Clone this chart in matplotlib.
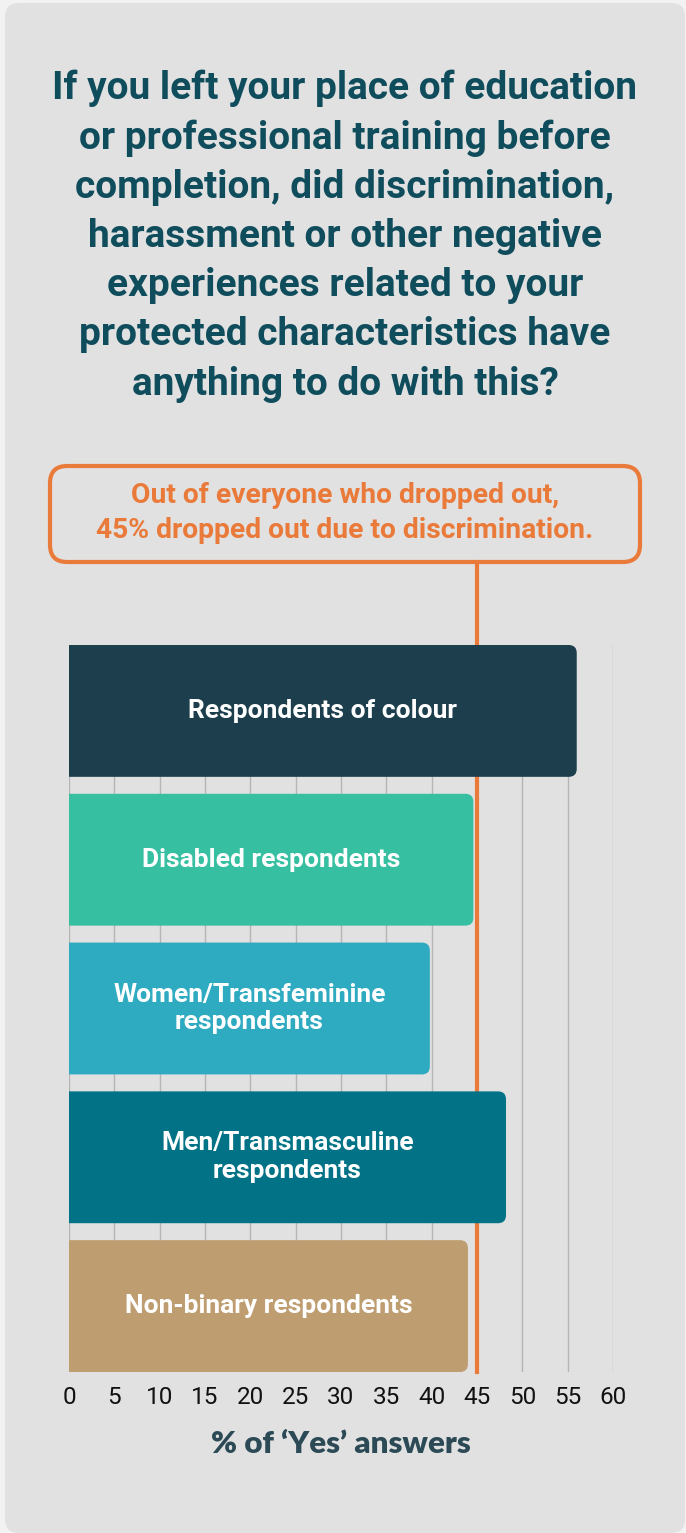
import matplotlib
matplotlib.use("Agg")
import matplotlib.pyplot as plt
from matplotlib.patches import FancyBboxPatch
from matplotlib import transforms

# 字体（窄体优先）
plt.rcParams['font.family'] = ['Liberation Sans Narrow', 'Roboto', 'DejaVu Sans']

# 数据
groups = ['Respondents of colour', 'Disabled respondents', 'Women/Transfeminine\nrespondents',
          'Men/Transmasculine\nrespondents', 'Non-binary respondents']
values = [56, 44.6, 39.8, 48.2, 44.0]
colors = ['#1d3e4c', '#36bfa0', '#2eaac1', '#027386', '#be9d70']
overall = 45
ticks = list(range(0, 65, 5))

title = ("If you left your place of education\nor professional training before\n"
         "completion, did discrimination,\nharassment or other negative\n"
         "experiences related to your\nprotected characteristics have\n"
         "anything to do with this?")
note = "Out of everyone who dropped out,\n45% dropped out due to discrimination."

W, H = 686, 1533
fig = plt.figure(figsize=(W / 100, H / 100), dpi=100)
fig.patch.set_facecolor('#f2f2f2')

# 背景圆角面板
panel = FancyBboxPatch((5 / W, 0), 680 / W, 1 - 3 / H,
                       boxstyle="round,pad=0,rounding_size=0.02", mutation_aspect=W / H,
                       transform=fig.transFigure, facecolor='#e1e1e1', edgecolor='none', zorder=-5)
fig.patches.append(panel)

# 标题
fig.text(345 / W, 1 - 236 / H, title, ha='center', va='center', fontsize=28,
         fontweight='bold', color='#0f4c5c', linespacing=1.42)

# 注释框
box = FancyBboxPatch((50 / W, 1 - 562 / H), 590 / W, 96 / H,
                     boxstyle="round,pad=0,rounding_size=0.025", mutation_aspect=W / H,
                     transform=fig.transFigure, facecolor='none', edgecolor='#ea7a3a',
                     linewidth=3, zorder=2)
fig.patches.append(box)
fig.text(345 / W, 1 - 513 / H, note, ha='center', va='center', fontsize=20.3,
         fontweight='bold', color='#ea7a3a', linespacing=1.4)

# 坐标轴
ax = fig.add_axes([69 / W, 161 / H, 544 / W, 727 / H])
ax.set_facecolor('none')
ypos = list(range(len(values)))
bars = ax.barh(ypos, values, height=0.886, color=colors)
ax.set_xlim(0, 60)
ax.set_ylim(4.443, -0.443)

# 圆角条形
px_x = 60 / 544
px_y = 4.886 / 727
r = 8 * px_x
for b, c in zip(bars, colors):
    x0, y0, w, h = b.get_x(), b.get_y(), b.get_width(), b.get_height()
    b.set_visible(False)
    fb = FancyBboxPatch((x0 - 2, y0), w + 2, h,
                        boxstyle=f"round,pad=0,rounding_size={r}",
                        mutation_aspect=px_y / px_x, facecolor=c, edgecolor='none', zorder=3)
    ax.add_patch(fb)

for y, v, g in zip(ypos, values, groups):
    ax.text(v / 2, y, g, ha='center', va='center', color='white', fontsize=19,
            fontweight='bold', zorder=4, linespacing=1.2)

ax.set_xticks(ticks)
ax.set_xticklabels([str(t) for t in ticks], fontsize=17.5, color='#111111')
ax.tick_params(axis='x', length=0, pad=10)
ax.set_yticks([])
ax.grid(axis='x', color='#b5b5b5', linewidth=1, zorder=1)
ax.set_axisbelow(True)
for s in ax.spines.values():
    s.set_visible(False)

# 45% 参考线（在条形下方）
tr = transforms.blended_transform_factory(ax.transData, fig.transFigure)
ax.plot([overall, overall], [161 / H, 1 - 562 / H], transform=tr, color='#ea7a3a',
        linewidth=3, clip_on=False, zorder=2)

ax.set_xlabel("% of \u2018Yes\u2019 answers", fontsize=22.5, fontweight='heavy',
              color='#2b4a56', labelpad=15, family=['Lato', 'DejaVu Sans'])

fig.savefig('out.png', dpi=100, facecolor=fig.get_facecolor())
